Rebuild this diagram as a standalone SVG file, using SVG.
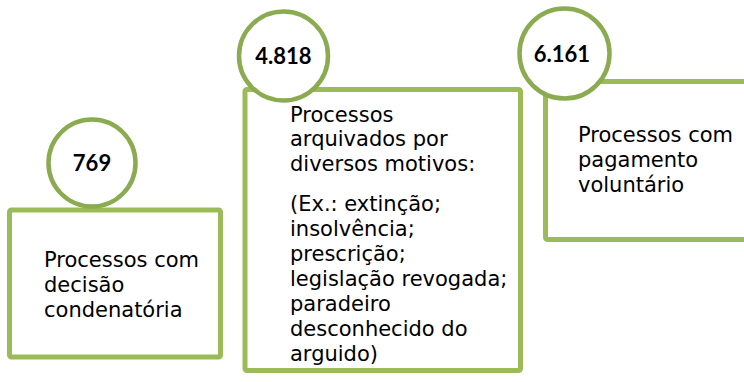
<svg xmlns="http://www.w3.org/2000/svg" width="744" height="382" viewBox="0 0 744 382">
<style>
.box{fill:#ffffff;stroke:#9bbb59;stroke-width:5}
.ring{fill:#ffffff;stroke:#8aab4f;stroke-width:4.5}
.num{font-family:Lato,"Open Sans","Liberation Sans",sans-serif;font-weight:bold;font-size:22px;fill:#000;text-anchor:middle}
.txt{font-family:"DejaVu Sans","Liberation Sans",sans-serif;font-size:21px;fill:#000}
</style>
<rect width="744" height="382" fill="#ffffff"/>
<g id="connectors"></g>
<g id="node-769">
<rect class="box" x="9.5" y="210" width="211" height="147" rx="2"/>
<circle class="ring" cx="92" cy="163" r="43.5"/>
<text class="num" x="92" y="171">769</text>
<text class="txt"><tspan x="44" y="267">Processos com</tspan><tspan x="44" y="292">decisão</tspan><tspan x="44" y="317">condenatória</tspan></text>
</g>
<g id="node-4818">
<rect class="box" x="245" y="89.5" width="275.5" height="281" rx="2"/>
<circle class="ring" cx="283.5" cy="56" r="44.5"/>
<text class="num" x="283.5" y="64">4.818</text>
<text class="txt"><tspan x="290" y="121.5">Processos</tspan><tspan x="290" y="146">arquivados por</tspan><tspan x="290" y="171">diversos motivos:</tspan><tspan x="290" y="210.5">(Ex.: extinção;</tspan><tspan x="290" y="235.5">insolvência;</tspan><tspan x="290" y="260.5">prescrição;</tspan><tspan x="290" y="285.5">legislação revogada;</tspan><tspan x="290" y="310.5">paradeiro</tspan><tspan x="290" y="335.5">desconhecido do</tspan><tspan x="290" y="360.5">arguido)</tspan></text>
</g>
<g id="node-6161">
<rect class="box" x="545.5" y="81.5" width="220" height="158" rx="2"/>
<circle class="ring" cx="564.5" cy="53.5" r="45"/>
<text class="num" x="562" y="62">6.161</text>
<text class="txt"><tspan x="578" y="142">Processos com</tspan><tspan x="578" y="167">pagamento</tspan><tspan x="578" y="192">voluntário</tspan></text>
</g>
</svg>
